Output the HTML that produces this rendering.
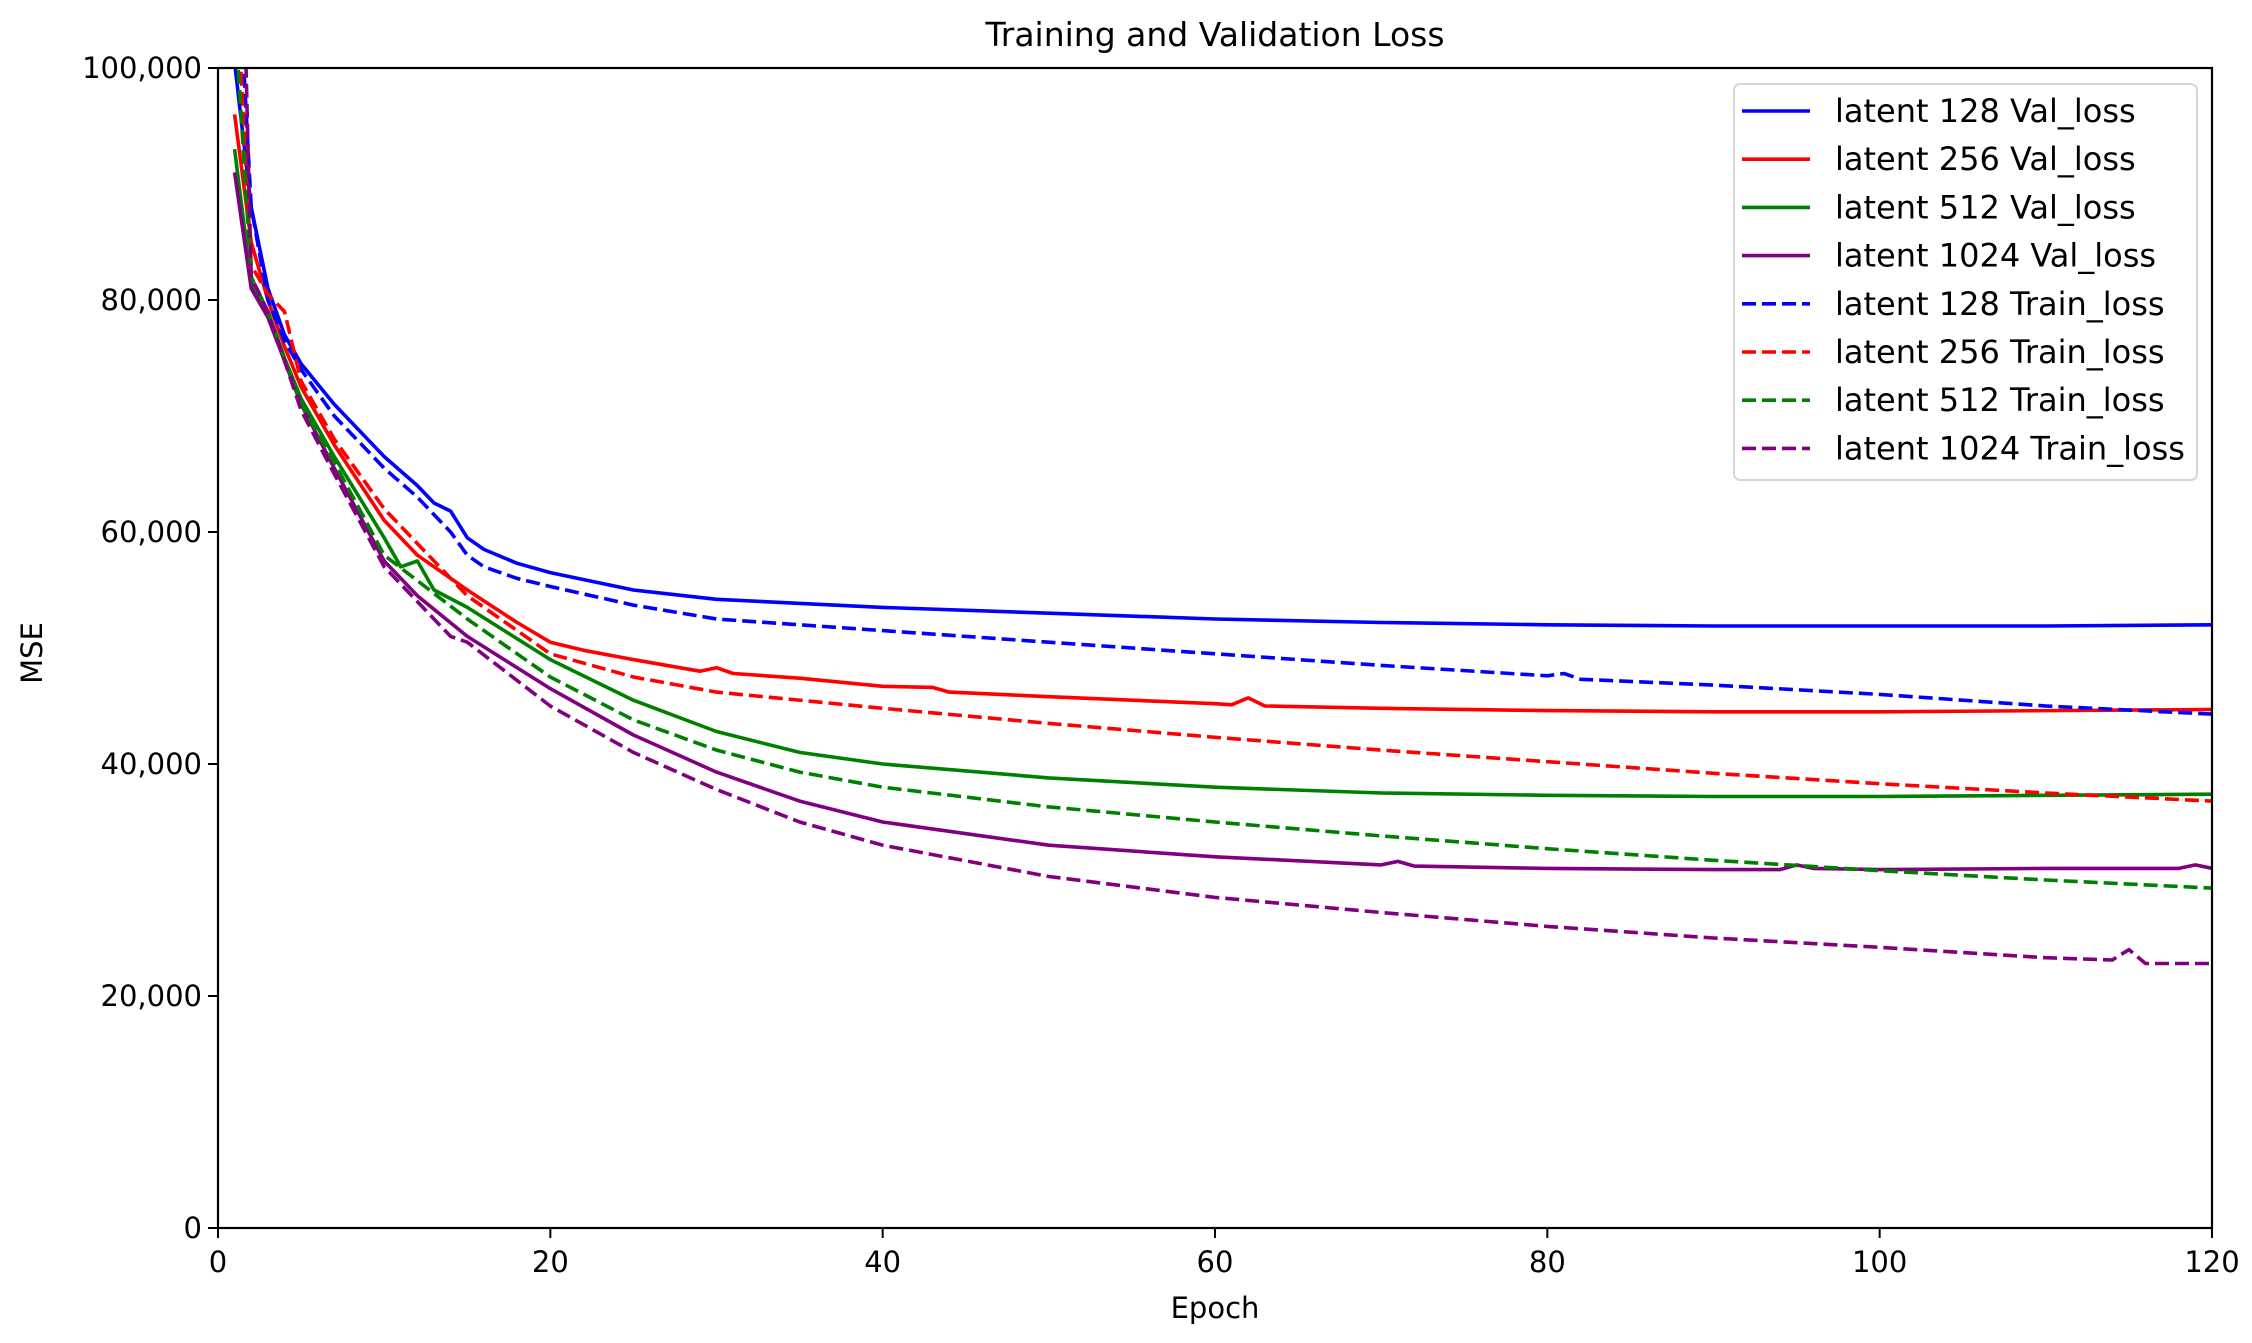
<!DOCTYPE html>
<html><head><meta charset="utf-8"><style>
body{margin:0;background:#fff}
svg{display:block;font-family:"DejaVu Sans","Liberation Sans",sans-serif}
</style></head><body>
<svg id="chart" width="2252" height="1343" viewBox="0 0 2252 1343">
<defs><clipPath id="plotclip"><rect x="218" y="68" width="1994" height="1160"/></clipPath></defs>
<rect width="2252" height="1343" fill="#fff"/>
<text x="1215" y="46" font-size="33" text-anchor="middle">Training and Validation Loss</text>
<g id="series" clip-path="url(#plotclip)"></g>
<g id="axes"></g>
<text x="1215" y="1318" font-size="29" text-anchor="middle">Epoch</text>
<text transform="translate(42,653) rotate(-90)" font-size="29" text-anchor="middle">MSE</text>
<g id="legend"></g>
</svg>
<script>
const xTicks=[0,20,40,60,80,100,120];
const yTicks=[0,20000,40000,60000,80000,100000];
const v128x=[1,2,3,4,5,7,10,12,13,14,15,16,18,20,25,30,40,50,60,70,80,90,100,110,120];
const v128y=[100500,88000,81000,77000,74500,71000,66500,64000,62500,61800,59500,58500,57300,56500,55000,54200,53500,53000,52500,52200,52000,51900,51900,51900,52000];
const t128x=[1,2,3,4,5,7,10,12,14,15,16,18,20,25,30,40,50,60,70,80,81,82,90,100,110,120];
const t128y=[115000,88000,80000,76500,74000,70000,65500,63000,60000,58000,57000,56000,55300,53700,52500,51500,50500,49500,48500,47600,47800,47300,46800,46000,45000,44300];
const v256x=[1,2,3,4,5,7,10,12,15,18,20,22,25,29,30,31,35,40,43,44,50,60,61,62,63,70,80,90,100,120];
const v256y=[96000,85000,80000,76000,72500,67500,61000,58000,55000,52200,50500,49800,49000,48000,48300,47800,47400,46700,46600,46200,45800,45200,45100,45700,45000,44800,44600,44500,44500,44700];
const t256x=[1,2,3,4,5,7,10,12,15,20,25,30,40,50,60,70,80,90,100,110,120];
const t256y=[110000,83000,80500,79000,73000,68000,62000,59000,54500,49500,47500,46200,44800,43500,42300,41200,40200,39200,38300,37500,36800];
const v512x=[1,2,3,4,5,7,10,11,12,13,15,20,25,30,35,40,50,60,70,80,90,100,120];
const v512y=[93000,81500,79000,75000,71500,66500,59500,57000,57500,55000,53500,49000,45500,42800,41000,40000,38800,38000,37500,37300,37200,37200,37400];
const t512x=[1,2,3,5,7,10,15,20,25,30,35,40,50,60,70,80,90,100,110,120];
const t512y=[105000,82000,79000,71000,66000,58000,52500,47500,43800,41200,39300,38000,36300,35000,33800,32700,31700,30800,30000,29300];
const v1024x=[1,2,3,5,7,10,12,15,20,25,30,35,40,50,60,70,71,72,80,90,94,95,96,100,110,118,119,120];
const v1024y=[91000,81000,78500,71000,65500,57500,54500,51000,46500,42500,39300,36800,35000,33000,32000,31300,31600,31200,31000,30900,30900,31300,31000,30900,31000,31000,31300,31000];
const t1024x=[1,2,3,5,7,10,14,15,20,25,30,35,40,50,60,70,80,90,100,110,114,115,116,120];
const t1024y=[140000,82000,79000,70500,65000,57000,51000,50500,45000,41000,37800,35000,33000,30300,28500,27200,26000,25000,24200,23300,23100,24000,22800,22800];
const seriesNames=["latent 128 Val_loss","latent 256 Val_loss","latent 512 Val_loss","latent 1024 Val_loss","latent 128 Train_loss","latent 256 Train_loss","latent 512 Train_loss","latent 1024 Train_loss"];
const seriesX=[v128x,v256x,v512x,v1024x,t128x,t256x,t512x,t1024x];
const seriesY=[v128y,v256y,v512y,v1024y,t128y,t256y,t512y,t1024y];
const colors=["#0000ff","#ff0000","#008000","#800080","#0000ff","#ff0000","#008000","#800080"];
const dashed=[false,false,false,false,true,true,true,true];
const L=218,R=2212,T=68,B=1228;
const sx=e=>L+(e-0)/120*(R-L);
const sy=v=>B-v/100000*(B-T);
const NS="http://www.w3.org/2000/svg";
const mk=(t,a)=>{const e=document.createElementNS(NS,t);for(const k in a)e.setAttribute(k,a[k]);return e;};
const sg=document.getElementById('series');
seriesNames.forEach((n,i)=>{
  const d=seriesX[i].map((x,j)=>(j?'L':'M')+sx(x).toFixed(1)+','+sy(seriesY[i][j]).toFixed(1)).join('');
  const p=mk('path',{d:d,fill:'none',stroke:colors[i],'stroke-width':3.6,'stroke-linejoin':'round'});
  if(dashed[i])p.setAttribute('stroke-dasharray','14,6');
  
  
  sg.appendChild(p);
});
const ax=document.getElementById('axes');
const frame=mk('rect',{x:L,y:T,width:R-L,height:B-T,fill:'none',stroke:'#000','stroke-width':2.2});


ax.appendChild(frame);
xTicks.forEach(t=>{
  const x=sx(t);
  const l=mk('line',{x1:x,x2:x,y1:B,y2:B+10,stroke:'#000','stroke-width':2});
  
  
  ax.appendChild(l);
  const tx=mk('text',{x:x,y:B+44,'font-size':29,'text-anchor':'middle'});
  tx.textContent=t;
  
  
  ax.appendChild(tx);
});
yTicks.forEach(t=>{
  const y=sy(t);
  const l=mk('line',{x1:L-10,x2:L,y1:y,y2:y,stroke:'#000','stroke-width':2});
  
  
  ax.appendChild(l);
  const tx=mk('text',{x:L-16,y:y+10,'font-size':29,'text-anchor':'end'});
  tx.textContent=t.toLocaleString('en-US');
  
  
  ax.appendChild(tx);
});
const lg=document.getElementById('legend');
const box=mk('rect',{x:1734,y:84,width:463,height:396,rx:6,fill:'#fff','fill-opacity':0.8,stroke:'#d6d6d6','stroke-width':2});


lg.appendChild(box);
seriesNames.forEach((n,i)=>{
  const y=111+i*48.2;
  const l=mk('line',{x1:1742,x2:1810,y1:y,y2:y,stroke:colors[i],'stroke-width':3.6});
  if(dashed[i])l.setAttribute('stroke-dasharray','14,6');
  
  
  lg.appendChild(l);
  const tx=mk('text',{x:1835,y:y+11,'font-size':32});
  tx.textContent=n;
  
  
  lg.appendChild(tx);
});
</script>
</body></html>
